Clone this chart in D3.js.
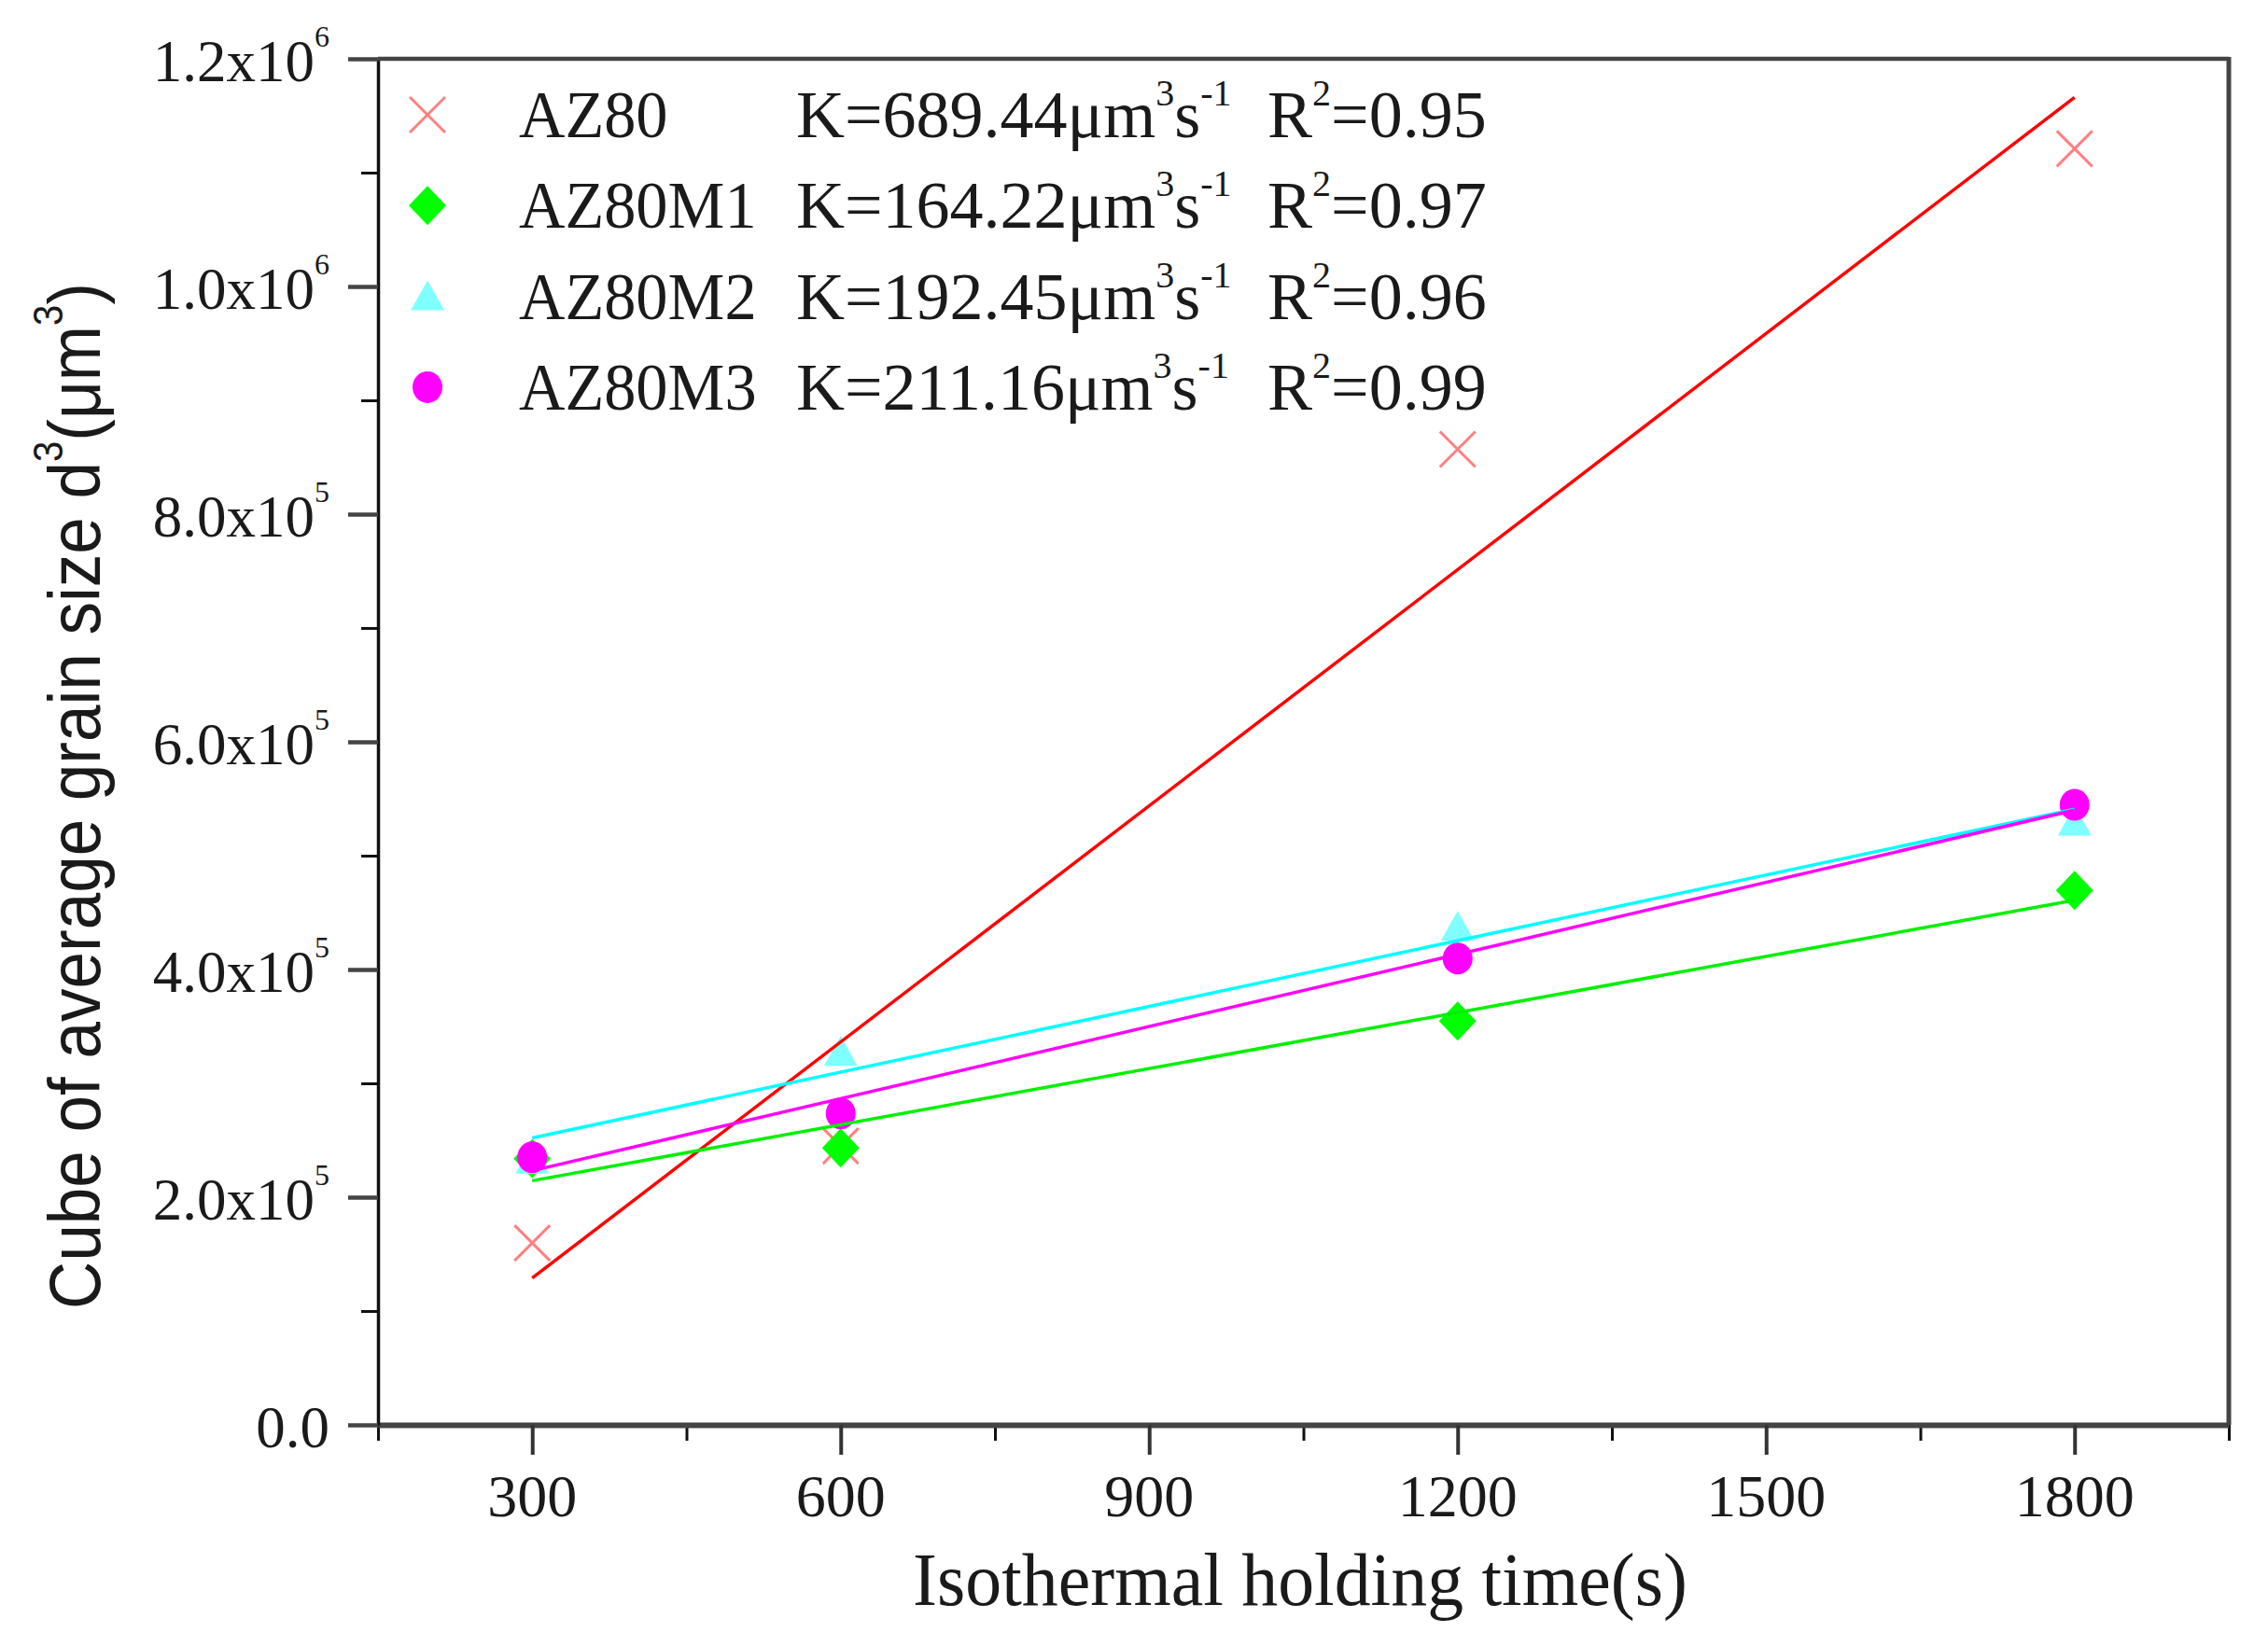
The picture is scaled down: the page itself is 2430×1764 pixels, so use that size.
<!DOCTYPE html>
<html>
<head>
<meta charset="utf-8">
<script src="https://cdn.jsdelivr.net/npm/d3@7"></script>
<style>
  html, body { margin: 0; padding: 0; background: #fff; }
  svg { display: block; }
</style>
</head>
<body>
<div id="chart"></div>
<script>
// Holding times (s) and cube of average grain size (um^3)
const times = [300, 600, 1200, 1800];
const az80 = [1.597e5, 2.45e5, 8.57e5, 1.121e6];
const az80m1 = [2.338e5, 2.433e5, 3.547e5, 4.694e5];
const az80m2 = [2.33e5, 3.277e5, 4.374e5, 5.30e5];
const az80m3 = [2.351e5, 2.736e5, 4.096e5, 5.447e5];

const seriesNames = ['AZ80', 'AZ80M1', 'AZ80M2', 'AZ80M3'];
const kValues = ['689.44', '164.22', '192.45', '211.16'];
const r2Values = ['0.95', '0.97', '0.96', '0.99'];

const xMajor = [300, 600, 900, 1200, 1500, 1800];
const xMinor = [150, 450, 750, 1050, 1350, 1650, 1950];
const yMajor = [0, 2e5, 4e5, 6e5, 8e5, 1e6, 1.2e6];
const yMinor = [1e5, 3e5, 5e5, 7e5, 9e5, 1.1e6];
const yTickMant = ['0.0', '2.0', '4.0', '6.0', '8.0', '1.0', '1.2'];
const yTickExp = [null, '5', '5', '5', '5', '6', '6'];

const SERIES = [
  { name: seriesNames[0], values: az80, marker: 'cross', fill: '#ff8080', line: '#ff0000' },
  { name: seriesNames[1], values: az80m1, marker: 'diamond', fill: '#00ff00', line: '#00f000' },
  { name: seriesNames[2], values: az80m2, marker: 'triangle', fill: '#80ffff', line: '#00ffff' },
  { name: seriesNames[3], values: az80m3, marker: 'circle', fill: '#ff00ff', line: '#ff00ff' },
];

const SERIF = "'Liberation Serif', 'Times New Roman', serif";
const SANS = "'Liberation Sans', Arial, sans-serif";
const INK = '#1a1a1a';

const W = 2430, H = 1764;
const x = d3.scaleLinear().domain([150, 1950]).range([405, 2388]);
const y = d3.scaleLinear().domain([0, 1.2e6]).range([1527, 63]);

const svg = d3.select('#chart').append('svg')
  .attr('width', W).attr('height', H);
svg.append('rect').attr('width', W).attr('height', H).attr('fill', '#fff');

// least squares fit, like the K values in the legend
function fit(xs, ys) {
  const mx = d3.mean(xs), my = d3.mean(ys);
  let sxy = 0, sxx = 0;
  xs.forEach((v, i) => { sxy += (v - mx) * (ys[i] - my); sxx += (v - mx) * (v - mx); });
  const slope = sxy / sxx;
  return { slope, intercept: my - slope * mx };
}

function drawMarker(g, type, cx, cy, color) {
  if (type === 'cross') {
    const s = 19;
    g.append('path')
      .attr('d', `M${cx - s},${cy - s}L${cx + s},${cy + s}M${cx - s},${cy + s}L${cx + s},${cy - s}`)
      .attr('stroke', color).attr('stroke-width', 3).attr('fill', 'none');
  } else if (type === 'diamond') {
    g.append('path')
      .attr('d', `M${cx},${cy - 21}L${cx + 20},${cy}L${cx},${cy + 21}L${cx - 20},${cy}Z`)
      .attr('fill', color);
  } else if (type === 'triangle') {
    g.append('path')
      .attr('d', `M${cx},${cy - 17}L${cx + 18},${cy + 15}L${cx - 18},${cy + 15}Z`)
      .attr('fill', color);
  } else {
    g.append('ellipse').attr('cx', cx).attr('cy', cy).attr('rx', 16).attr('ry', 17)
      .attr('fill', color);
  }
}

// ---- axes ----
const axisG = svg.append('g');

const gxMinor = axisG.append('g').attr('transform', `translate(0,${y(0)})`)
  .call(d3.axisBottom(x).tickValues(xMinor).tickSize(17).tickSizeOuter(0).tickFormat(''));
gxMinor.select('.domain').remove();
gxMinor.selectAll('.tick line').attr('stroke', '#111').attr('stroke-width', 3);

const gx = axisG.append('g').attr('transform', `translate(0,${y(0)})`)
  .call(d3.axisBottom(x).tickValues(xMajor).tickSize(32).tickSizeOuter(0).tickFormat(''));
gx.select('.domain').attr('stroke', '#444').attr('stroke-width', 6);
gx.selectAll('.tick line').attr('stroke', '#333').attr('stroke-width', 4);

const gyMinor = axisG.append('g').attr('transform', `translate(${x(150)},0)`)
  .call(d3.axisLeft(y).tickValues(yMinor).tickSize(18).tickSizeOuter(0).tickFormat(''));
gyMinor.select('.domain').remove();
gyMinor.selectAll('.tick line').attr('stroke', '#111').attr('stroke-width', 3);

const gy = axisG.append('g').attr('transform', `translate(${x(150)},0)`)
  .call(d3.axisLeft(y).tickValues(yMajor).tickSize(32).tickSizeOuter(0).tickFormat(''));
gy.select('.domain').attr('stroke', '#111').attr('stroke-width', 3.5);
gy.selectAll('.tick line').attr('stroke', '#444').attr('stroke-width', 4.5);

// frame: top and right
axisG.append('line')
  .attr('x1', x(150)).attr('x2', x(1950)).attr('y1', y(1.2e6)).attr('y2', y(1.2e6))
  .attr('stroke', '#444').attr('stroke-width', 4.5);
axisG.append('line')
  .attr('x1', x(1950)).attr('x2', x(1950)).attr('y1', y(1.2e6) - 2).attr('y2', y(0))
  .attr('stroke', '#444').attr('stroke-width', 5);

// tick labels
svg.append('g').selectAll('text').data(xMajor).join('text')
  .attr('x', d => x(d)).attr('y', y(0) + 98)
  .attr('text-anchor', 'middle')
  .attr('font-family', SERIF).attr('font-size', 64).attr('fill', INK)
  .text(d => d);

const yLab = svg.append('g').selectAll('text').data(yMajor).join('text')
  .attr('x', 353).attr('y', d => y(d) + 24)
  .attr('text-anchor', 'end')
  .attr('font-family', SERIF).attr('font-size', 63).attr('fill', INK);
yLab.each(function (d, i) {
  const t = d3.select(this);
  if (yTickExp[i] === null) {
    t.text(yTickMant[i]);
    return;
  }
  t.append('tspan').text(yTickMant[i] + 'x10');
  t.append('tspan').attr('dy', -37).attr('font-size', 32).text(yTickExp[i]);
});

// axis titles
const xTitle = svg.append('text')
  .attr('transform', 'translate(1393,1720)')
  .attr('text-anchor', 'middle')
  .attr('font-family', SERIF).attr('font-size', 81).attr('fill', INK)
  .text('Isothermal holding time(s)');
{
  const len = xTitle.node().getComputedTextLength();
  xTitle.attr('transform', `translate(1393,1720) scale(${830 / len},1)`);
}

const yTitle = svg.append('text')
  .attr('text-anchor', 'middle')
  .attr('font-family', SANS).attr('font-size', 78).attr('fill', INK);
yTitle.append('tspan').text('Cube of average grain size d');
yTitle.append('tspan').attr('dy', -40).attr('font-size', 44).text('3');
yTitle.append('tspan').attr('dy', 40).text('(μm');
yTitle.append('tspan').attr('dy', -40).attr('font-size', 44).text('3');
yTitle.append('tspan').attr('dy', 40).text(')');
{
  const len = yTitle.node().getComputedTextLength();
  yTitle.attr('transform', `translate(107,853) rotate(-90) scale(${1100 / len},1)`);
}

// ---- markers and fitted lines ----
const plot = svg.append('g');
SERIES.forEach(s => {
  const g = plot.append('g');
  s.values.forEach((v, i) => drawMarker(g, s.marker, x(times[i]), y(v), s.fill));
});
SERIES.forEach(s => {
  const f = fit(times, s.values);
  const ends = [d3.min(times), d3.max(times)];
  plot.append('path')
    .datum(ends)
    .attr('d', d3.line().x(t => x(t)).y(t => y(f.slope * t + f.intercept)))
    .attr('stroke', s.line).attr('stroke-width', 3.5).attr('fill', 'none');
});

// ---- legend ----
const legend = svg.append('g');
const rowY = i => 123 + i * 97.3;
const SQ = 0.95;
SERIES.forEach((s, i) => {
  const cy = rowY(i);
  drawMarker(legend, s.marker, 458, cy, s.fill);
  const base = cy + 24;

  legend.append('text')
    .attr('transform', `translate(556,${base}) scale(${SQ},1)`)
    .attr('font-family', SERIF).attr('font-size', 72).attr('fill', INK)
    .text(s.name);

  const k = legend.append('text')
    .attr('transform', `translate(853,${base})`)
    .attr('font-family', SERIF).attr('font-size', 72).attr('fill', INK);
  k.append('tspan').text('K=' + kValues[i] + 'μm');
  k.append('tspan').attr('dy', -34).attr('font-size', 40).text('3');
  k.append('tspan').attr('dy', 34).text('s');
  k.append('tspan').attr('dy', -34).attr('font-size', 40).text('-1');

  const r = legend.append('text')
    .attr('transform', `translate(1358,${base})`)
    .attr('font-family', SERIF).attr('font-size', 72).attr('fill', INK);
  r.append('tspan').text('R');
  r.append('tspan').attr('dy', -34).attr('font-size', 40).text('2');
  r.append('tspan').attr('dy', 34).text('=' + r2Values[i]);
});
</script>
</body>
</html>
